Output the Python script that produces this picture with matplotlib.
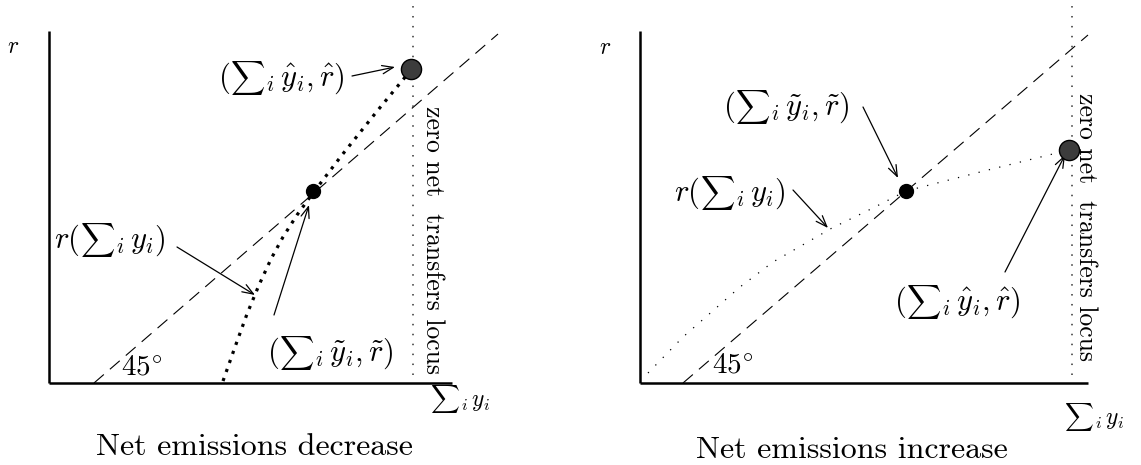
import matplotlib
matplotlib.use("Agg")
import matplotlib.pyplot as plt
from matplotlib.offsetbox import TextArea, HPacker, AnnotationBbox

plt.rcParams['mathtext.fontset'] = 'cm'
plt.rcParams['axes.formatter.use_mathtext'] = True

# ---------------- data (panel units, origin at axes corner) ----------------
titles = ["Net emissions decrease", "Net emissions increase"]
axis_x_len = [40.3, 44.8]
axis_y_len = [35.2, 35.2]

# 45-degree reference lines (start, end)
diag_x = [[4.5, 44.9], [4.3, 44.8]]
diag_y = [[0.0, 34.9], [0.0, 34.8]]

# zero net transfers locus
locus_x = [36.4, 43.2]
locus_y = [0.8, 38.3]

# r(sum y) curves
curve_left_x = [17.4, 18.6, 19.8, 21.0, 22.2, 23.4, 24.8, 26.4, 29.3, 32.9, 36.2]
curve_left_y = [0.2, 3.6, 6.9, 9.8, 12.4, 14.6, 16.8, 19.0, 22.8, 27.3, 31.3]
curve_right_x = [0.8, 4.3, 10.0, 13.3, 16.6, 19.2, 23.3, 26.6, 34.8, 42.9]
curve_right_y = [1.0, 4.6, 9.6, 12.1, 14.0, 15.5, 17.5, 19.2, 21.3, 23.3]

# points: (tilde point, hat point)
tilde_pt = [(26.4, 19.2), (26.6, 19.2)]
hat_pt = [(36.2, 31.4), (42.9, 23.3)]

# label positions
lab_hat = [(23.2, 30.5), (31.7, 8.1)]
lab_tilde = [(28.1, 3.0), (14.6, 27.6)]
lab_r = [(6.1, 14.3), (9.0, 19.0)]
arr_hat = [((30.3, 30.7), (34.6, 31.6)), ((36.5, 11.1), (42.5, 22.8))]
arr_tilde = [((22.5, 6.8), (26.0, 17.8)), ((22.3, 27.6), (25.8, 20.5))]
arr_r = [((12.8, 13.6), (20.6, 8.8)), ((15.3, 19.3), (18.8, 15.5))]
lab_45 = [(9.3, 1.6), (9.3, 1.8)]
lab_locus = [(38.4, 14.3), (44.6, 15.6)]
lab_ry = [(-3.6, 33.7), (-3.5, 33.6)]
lab_sum = [(41.1, -1.6), (45.4, -3.4)]
lab_title = [(20.5, -6.4), (21.2, -6.7)]

curves_x = [curve_left_x, curve_right_x]
curves_y = [curve_left_y, curve_right_y]

fig = plt.figure(figsize=(11.41, 4.65), dpi=100)
W = 1141.0
axes = [fig.add_axes([0, 0, 570 / W, 1]), fig.add_axes([570 / W, 0, 571 / W, 1])]
xlims = [(-4.9, 52.1), (-7.0, 50.1)]
ylim = (-8.2, 38.3)

FS_MATH = 22
arrowkw = dict(arrowstyle='->,head_length=0.8,head_width=0.3', lw=0.9,
               color='black', shrinkA=0, shrinkB=0, mutation_scale=10)


def sum_label(ax, xy, pre, post, fs, factor=0.78):
    """Text-style sum: smaller summation glyph packed between math pieces."""
    kids = []
    if pre:
        kids.append(TextArea(pre, textprops=dict(fontsize=fs)))
    kids.append(TextArea(r'$\sum$', textprops=dict(fontsize=fs * factor)))
    kids.append(TextArea(post, textprops=dict(fontsize=fs)))
    box = HPacker(children=kids, align='baseline', pad=0, sep=0)
    ab = AnnotationBbox(box, xy, xycoords='data', frameon=False,
                        box_alignment=(0.5, 0.5), pad=0, annotation_clip=False)
    ax.add_artist(ab)


for k, ax in enumerate(axes):
    ax.set_xlim(*xlims[k])
    ax.set_ylim(*ylim)
    ax.axis('off')
    # axes lines
    ax.plot([0, 0], [0, axis_y_len[k]], color='black', lw=1.8, solid_capstyle='butt', clip_on=False)
    ax.plot([0, axis_x_len[k]], [0, 0], color='black', lw=1.8, solid_capstyle='butt', clip_on=False)
    # 45 line
    ax.plot(diag_x[k], diag_y[k], color='black', lw=0.8, linestyle=(0, (11.7, 7.2)))
    # locus
    ax.plot([locus_x[k], locus_x[k]], locus_y, color='#333333', lw=1.1,
            linestyle=(0, (1, 5.5)), clip_on=False)
    # curve
    if k == 0:
        ax.plot(curves_x[k], curves_y[k], color='black', lw=2.3,
                linestyle=(0, (1, 2.0)), dash_capstyle='butt')
    else:
        ax.plot(curves_x[k], curves_y[k], color='black', lw=0.9,
                linestyle=(0, (1, 7.5)))
    # points
    ax.plot(*hat_pt[k], 'o', ms=14.5, mfc='#3c3c3c', mec='black', mew=1.0, zorder=5)
    ax.plot(*tilde_pt[k], 'o', ms=10, mfc='black', mec='black', zorder=5)
    # labels
    sum_label(ax, lab_hat[k], r'$($', r'${}_i\,\hat{y}_i,\hat{r})$', FS_MATH)
    sum_label(ax, lab_tilde[k], r'$($', r'${}_i\,\tilde{y}_i,\tilde{r})$', FS_MATH)
    sum_label(ax, lab_r[k], r'$r($', r'${}_i\,y_i)$', FS_MATH)
    for (s, e) in (arr_hat[k], arr_tilde[k], arr_r[k]):
        ax.annotate('', xy=e, xytext=s, arrowprops=arrowkw)
    ax.text(*lab_45[k], r'$45^{\circ}$', fontsize=21, ha='center', va='center')
    ax.text(*lab_locus[k], 'zero net  transfers locus', fontsize=18.5, family='cmr10',
            rotation=-90, ha='center', va='center')
    ax.text(*lab_ry[k], r'$r$', fontsize=17, ha='center', va='center')
    sum_label(ax, lab_sum[k], None, r'${}_i\,y_i$', 17, factor=0.85)
    ax.text(*lab_title[k], titles[k], fontsize=23, family='cmr10', ha='center', va='center')

fig.savefig('out.png', dpi=100)
